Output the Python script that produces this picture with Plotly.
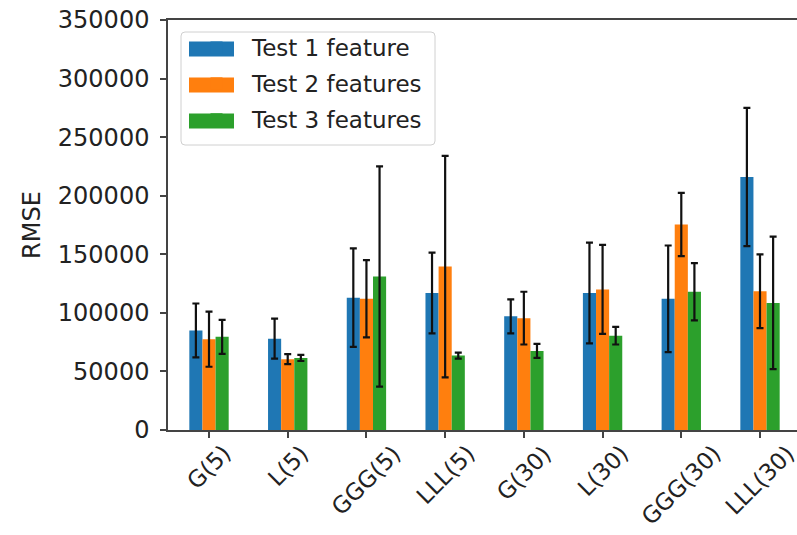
import plotly.graph_objects as go

categories = ["G(5)", "L(5)", "GGG(5)", "LLL(5)", "G(30)", "L(30)", "GGG(30)", "LLL(30)"]
series_names = ["Test 1 feature", "Test 2 features", "Test 3 features"]

test1_mean = [85000, 78000, 113000, 117000, 97000, 117000, 112000, 216000]
test1_err = [23000, 17000, 42000, 34500, 14500, 43000, 45500, 59000]

test2_mean = [77500, 60500, 112000, 139500, 95500, 120000, 175500, 118500]
test2_err = [23500, 4300, 33000, 94500, 22500, 38000, 27000, 31500]

test3_mean = [79500, 61500, 131000, 63500, 67500, 80500, 118000, 108500]
test3_err = [14500, 2600, 94000, 2500, 6000, 7500, 24500, 56500]

y_ticks = [0, 50000, 100000, 150000, 200000, 250000, 300000, 350000]
colors = ["#1f77b4", "#ff7f0e", "#2ca02c"]

TEXT = "#222222"
FONT = "DejaVu Sans"

# plot-area geometry in pixels (for legend decoration in paper coords)
W, H = 797, 535
ML, MR, MT, MB = 168, 0, 20, 105
PW, PH = W - ML - MR, H - MT - MB


def px_x(x):
    return (x - ML) / PW


def px_y(y):
    return (H - MB - y) / PH


fig = go.Figure()
for name, mean, err, col in zip(series_names,
                                [test1_mean, test2_mean, test3_mean],
                                [test1_err, test2_err, test3_err],
                                colors):
    fig.add_trace(go.Bar(
        x=categories, y=mean, name=name, legendgroup=name,
        marker=dict(color=col, line=dict(width=0)),
        error_y=dict(type="data", array=err, visible=True,
                     color="#111111", thickness=2.2, width=3.5),
    ))

for c in categories:
    fig.add_annotation(
        x=c, xref="x", y=0, yref="paper", text=c, showarrow=False,
        textangle=-45, xanchor="center", yanchor="top", yshift=-9,
        borderpad=0,
        font=dict(family=FONT, size=23, color=TEXT),
    )

# legend frame (rounded) drawn beneath the native legend
bx0, bx1, by0, by1 = 181, 435, 32, 145
r = 4
rx, ry = r / PW, r / PH
X0, X1, Y0, Y1 = px_x(bx0), px_x(bx1), px_y(by1), px_y(by0)
path = (f"M{X0+rx},{Y1} L{X1-rx},{Y1} Q{X1},{Y1} {X1},{Y1-ry} "
        f"L{X1},{Y0+ry} Q{X1},{Y0} {X1-rx},{Y0} L{X0+rx},{Y0} "
        f"Q{X0},{Y0} {X0},{Y0+ry} L{X0},{Y1-ry} Q{X0},{Y1} {X0+rx},{Y1} Z")
fig.add_shape(type="path", path=path, xref="paper", yref="paper",
              fillcolor="rgba(255,255,255,0.85)",
              line=dict(color="#d0d0d0", width=1), layer="below")

# wide legend swatches, matching the native legend rows
row_y = [49, 85, 121]
for yc, col in zip(row_y, colors):
    fig.add_shape(type="rect", xref="paper", yref="paper",
                  x0=px_x(189), x1=px_x(234), y0=px_y(yc + 7.5), y1=px_y(yc - 7.5),
                  fillcolor=col, line=dict(width=0), layer="below")

fig.update_layout(
    width=W, height=H,
    margin=dict(l=ML, r=MR, t=MT, b=MB),
    paper_bgcolor="white", plot_bgcolor="white",
    barmode="group", bargap=0.5, bargroupgap=0,
    font=dict(family=FONT, size=24, color=TEXT),
    showlegend=True,
    legend=dict(
        x=px_x(181), y=px_y(26), xanchor="left", yanchor="top",
        bgcolor="rgba(255,255,255,0)", borderwidth=0,
        font=dict(family=FONT, size=23, color=TEXT),
        itemwidth=61, tracegroupgap=3,
    ),
)

fig.update_xaxes(
    range=[-0.521, 7.47],
    showline=True, linecolor="#444444", linewidth=1.5, mirror=True,
    ticks="outside", ticklen=6, tickwidth=1.5, tickcolor="#444444",
    showticklabels=False, showgrid=False, zeroline=False,
)
fig.update_yaxes(
    range=[0, 350000], tickvals=y_ticks, ticktext=[str(v) for v in y_ticks],
    showline=True, linecolor="#444444", linewidth=1.5, mirror=False,
    ticks="outside", ticklen=6, tickwidth=1.5, tickcolor="#444444",
    ticklabelstandoff=6,
    tickfont=dict(family=FONT, size=24, color=TEXT),
    title=dict(text="RMSE", font=dict(family=FONT, size=24, color=TEXT), standoff=10),
    showgrid=False, zeroline=False,
)

fig.write_html("out.html")
